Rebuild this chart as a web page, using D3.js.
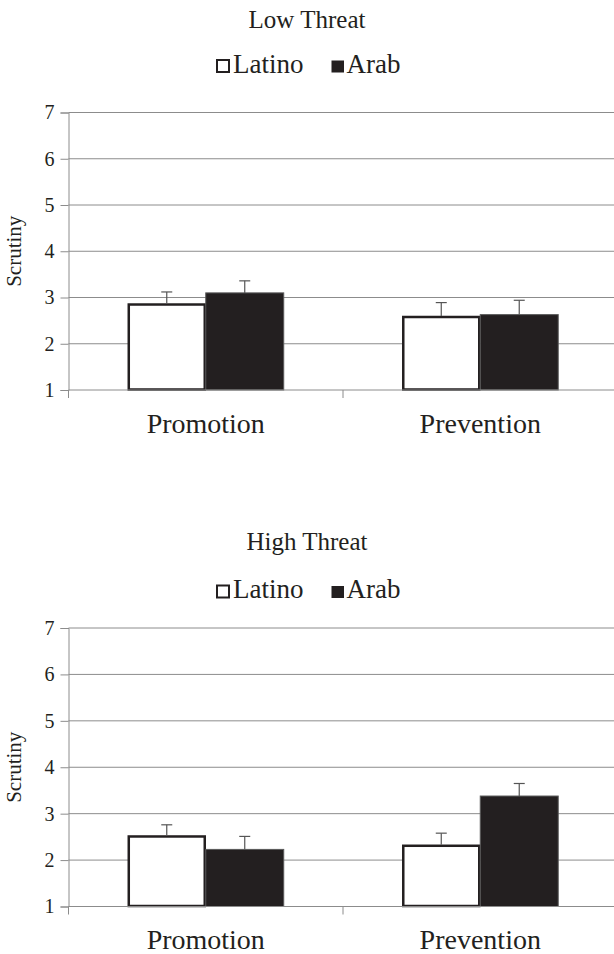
<!DOCTYPE html>
<html>
<head>
<meta charset="utf-8">
<script src="https://cdn.jsdelivr.net/npm/d3@7"></script>
<style>
  html, body { margin: 0; padding: 0; background: #fff; }
  svg { display: block; }
  text { font-family: "Liberation Serif", "Times New Roman", serif; fill: #231f20; }
</style>
</head>
<body>
<svg id="chart" width="614" height="954"></svg>
<script>
// values
const categories = ["Promotion", "Prevention"];
const series = ["Latino", "Arab"];
const yTicks = [1, 2, 3, 4, 5, 6, 7];

const lowLatino = [2.87, 2.6];
const lowArab = [3.1, 2.63];
const lowLatinoErr = [0.25, 0.29];
const lowArabErr = [0.26, 0.31];

const highLatino = [2.53, 2.33];
const highArab = [2.23, 3.38];
const highLatinoErr = [0.23, 0.25];
const highArabErr = [0.28, 0.27];

const panels = [
  { title: "Low Threat", latino: lowLatino, arab: lowArab, latinoErr: lowLatinoErr, arabErr: lowArabErr,
    titleY: 28, legendY: 72.5, top: 112.5, bottom: 390, labelY: 433 },
  { title: "High Threat", latino: highLatino, arab: highArab, latinoErr: highLatinoErr, arabErr: highArabErr,
    titleY: 550, legendY: 598, top: 628, bottom: 906.5, labelY: 949 },
];

const svg = d3.select("#chart");
const left = 68.5, right = 617.5;
const gridColor = "#8c8c8c";
const ink = "#231f20";

const x = d3.scaleBand().domain(categories).range([left, right]).paddingInner(0).paddingOuter(0);
const xs = d3.scaleBand().domain(series).range([0, x.bandwidth()]).paddingInner(0).paddingOuter(0.76);

panels.forEach((p) => {
  const g = svg.append("g");
  const y = d3.scaleLinear().domain([1, 7]).range([p.bottom, p.top]);

  // title
  g.append("text")
    .attr("x", 307).attr("y", p.titleY)
    .attr("text-anchor", "middle")
    .style("font-size", "25px")
    .text(p.title);

  // legend
  const lg = g.append("g");
  lg.append("rect").attr("x", 217).attr("y", p.legendY - 12.5).attr("width", 12).attr("height", 12)
    .attr("fill", "#fff").attr("stroke", ink).attr("stroke-width", 2);
  lg.append("text").attr("x", 233).attr("y", p.legendY).style("font-size", "27px").text(series[0]);
  lg.append("rect").attr("x", 331.5).attr("y", p.legendY - 12).attr("width", 12.5).attr("height", 12)
    .attr("fill", ink);
  lg.append("text").attr("x", 346.5).attr("y", p.legendY).style("font-size", "27px").text(series[1]);

  // gridlines
  g.append("g")
    .selectAll("line")
    .data(yTicks.slice(1))
    .join("line")
    .attr("x1", left).attr("x2", 614)
    .attr("y1", (d) => y(d)).attr("y2", (d) => y(d))
    .attr("stroke", gridColor).attr("stroke-width", 1);

  // y axis
  const ya = g.append("g")
    .attr("transform", `translate(${left},0)`)
    .call(d3.axisLeft(y).tickValues(yTicks).tickSize(8).tickPadding(6).tickFormat(d3.format("d")));
  ya.select(".domain").attr("stroke", gridColor);
  ya.selectAll(".tick line").attr("stroke", gridColor);
  ya.selectAll(".tick text")
    .style("font-size", "20px")
    .style("font-family", "'Liberation Serif', 'Times New Roman', serif")
    .attr("fill", ink);

  // y label
  g.append("text")
    .attr("transform", `translate(21,${(p.top + p.bottom) / 2}) rotate(-90)`)
    .attr("text-anchor", "middle")
    .style("font-size", "21px")
    .text("Scrutiny");

  // bars
  const rows = categories.map((c, i) => [
    { cat: c, s: series[0], v: p.latino[i], e: p.latinoErr[i] },
    { cat: c, s: series[1], v: p.arab[i], e: p.arabErr[i] },
  ]).flat();

  const bars = g.append("g");
  bars.selectAll("rect")
    .data(rows)
    .join("rect")
    .attr("x", (d) => x(d.cat) + xs(d.s) + (d.s === "Latino" ? 1 : 0))
    .attr("y", (d) => y(d.v) + (d.s === "Latino" ? 1 : 0))
    .attr("width", (d) => xs.bandwidth() - (d.s === "Latino" ? 2 : 0))
    .attr("height", (d) => y(1) - y(d.v) - (d.s === "Latino" ? 1.5 : 0))
    .attr("fill", (d) => (d.s === "Latino" ? "#fff" : ink))
    .attr("stroke", (d) => (d.s === "Latino" ? ink : "#5a5a5a"))
    .attr("stroke-width", (d) => (d.s === "Latino" ? 2.5 : 1));

  // x axis line
  g.append("line")
    .attr("x1", left).attr("x2", 614)
    .attr("y1", y(1)).attr("y2", y(1))
    .attr("stroke", gridColor);

  // category boundary ticks
  const bounds = categories.map((c) => x(c)).concat([x.range()[1]]);
  g.append("g")
    .selectAll("line")
    .data(bounds)
    .join("line")
    .attr("x1", (d) => d).attr("x2", (d) => d)
    .attr("y1", y(1)).attr("y2", y(1) + 8)
    .attr("stroke", gridColor);

  // error bars (upper only)
  const err = g.append("g").attr("stroke", "#555").attr("stroke-width", 1.2);
  err.selectAll("line.v")
    .data(rows)
    .join("line")
    .attr("class", "v")
    .attr("x1", (d) => x(d.cat) + xs(d.s) + xs.bandwidth() / 2)
    .attr("x2", (d) => x(d.cat) + xs(d.s) + xs.bandwidth() / 2)
    .attr("y1", (d) => y(d.v))
    .attr("y2", (d) => y(d.v + d.e));
  err.selectAll("line.c")
    .data(rows)
    .join("line")
    .attr("class", "c")
    .attr("x1", (d) => x(d.cat) + xs(d.s) + xs.bandwidth() / 2 - 5.5)
    .attr("x2", (d) => x(d.cat) + xs(d.s) + xs.bandwidth() / 2 + 5.5)
    .attr("y1", (d) => y(d.v + d.e))
    .attr("y2", (d) => y(d.v + d.e));

  // category labels
  g.append("g")
    .selectAll("text")
    .data(categories)
    .join("text")
    .attr("x", (d) => x(d) + x.bandwidth() / 2)
    .attr("y", p.labelY)
    .attr("text-anchor", "middle")
    .style("font-size", "28px")
    .text((d) => d);
});
</script>
</body>
</html>
